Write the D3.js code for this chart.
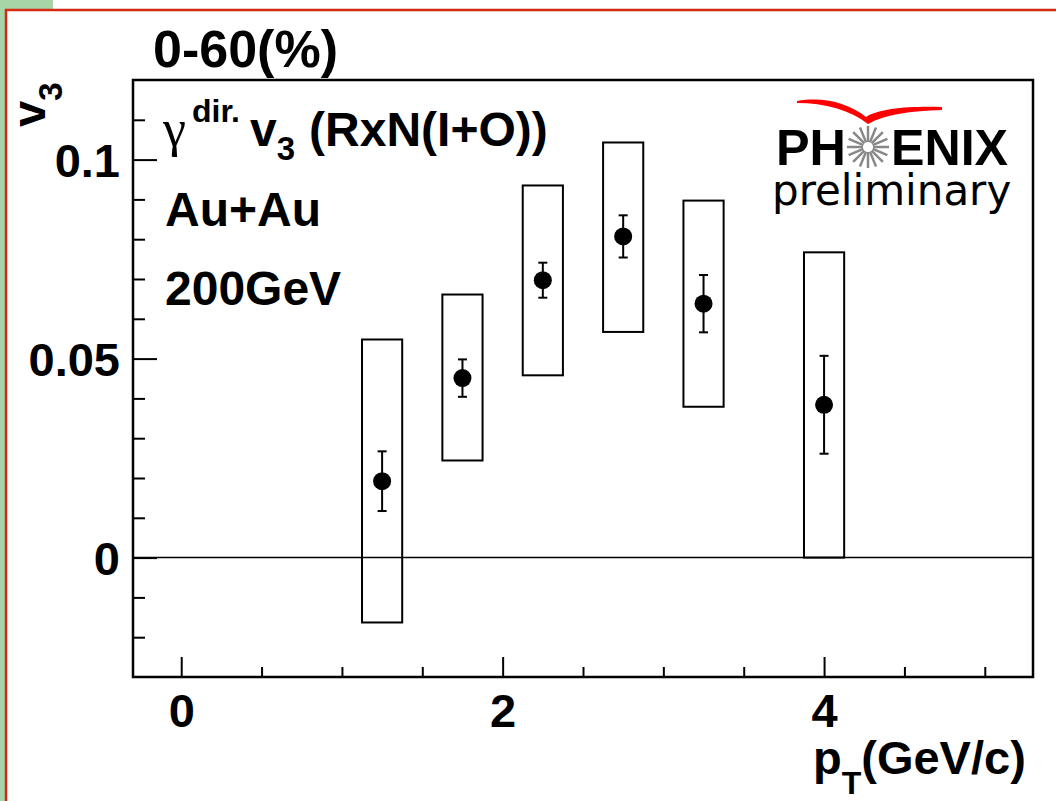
<!DOCTYPE html>
<html>
<head>
<meta charset="utf-8">
<script src="https://cdn.jsdelivr.net/npm/d3@7"></script>
<style>
  body { margin: 0; background: #fff; }
  text { font-family: "Liberation Sans", Arial, sans-serif; font-weight: bold; }
</style>
</head>
<body>
<div id="chart"></div>
<script>
// pT bin centres (GeV/c)
var ptBins = [1.25, 1.75, 2.25, 2.75, 3.25, 4.0];
// direct photon v3 values
var v3Values = [0.0192, 0.0451, 0.0697, 0.0807, 0.0638, 0.0384];
// statistical errors (symmetric)
var statErrors = [0.0075, 0.0047, 0.0044, 0.0053, 0.0072, 0.0123];
// systematic band, low and high edges
var sysLow = [-0.0163, 0.0244, 0.0458, 0.0567, 0.0379, 0.0];
var sysHigh = [0.0548, 0.0661, 0.0935, 0.1043, 0.0897, 0.0767];
var sysHalfWidth = 0.125;

var xMajorTicks = [0, 2, 4];
var yMajorTicks = [0, 0.05, 0.1];
var yTickLabels = ["0", "0.05", "0.1"];

function init() {

    var w = 1056;
    var h = 801;
    var margin = {top: 80, right: 23, bottom: 124, left: 133};

    var dataset = ptBins.map(function(p, i) {
        return {pt: p, v: v3Values[i], err: statErrors[i], lo: sysLow[i], hi: sysHigh[i]};
    });

    var svg = d3.select("#chart")
        .append("svg")
        .attr("width", w)
        .attr("height", h);

    // page frame (green corner + red border)
    svg.append("rect").attr("x", 0).attr("y", 0).attr("width", 53).attr("height", 9).attr("fill", "#a8d5a8");
    svg.append("rect").attr("x", 0).attr("y", 0).attr("width", 5).attr("height", h).attr("fill", "#a8d5a8");
    svg.append("path")
        .attr("d", "M6," + h + " V10 H" + w)
        .attr("fill", "none")
        .attr("stroke", "#d42a14")
        .attr("stroke-width", 2.5);

    var xScale = d3.scaleLinear()
        .domain([-0.3, 5.3])
        .range([margin.left, w - margin.right]);

    var yScale = d3.scaleLinear()
        .domain([-0.03, 0.12])
        .range([h - margin.bottom, margin.top]);

    var x0 = xScale.range()[0], x1 = xScale.range()[1];
    var y0 = yScale.range()[0], y1 = yScale.range()[1];

    // zero line
    svg.append("line")
        .attr("x1", x0).attr("x2", x1)
        .attr("y1", yScale(0)).attr("y2", yScale(0))
        .attr("stroke", "#000")
        .attr("stroke-width", 1.5);

    // inward ticks - y (minor every 0.01)
    var yMinor = d3.range(-2, 12).filter(d => d % 5 != 0).map(d => d / 100);
    svg.append("g")
        .attr("transform", "translate(" + x0 + ",0)")
        .call(d3.axisRight(yScale).tickValues(yMinor).tickSize(12).tickFormat(""))
        .call(g => g.select(".domain").remove())
        .selectAll("line").attr("stroke-width", 2);
    svg.append("g")
        .attr("transform", "translate(" + x0 + ",0)")
        .call(d3.axisRight(yScale).tickValues(yMajorTicks).tickSize(24).tickFormat(""))
        .call(g => g.select(".domain").remove())
        .selectAll("line").attr("stroke-width", 2);

    // y labels
    var yAx = svg.append("g")
        .attr("transform", "translate(" + (x0 - 10) + ",0)")
        .call(d3.axisLeft(yScale).tickValues(yMajorTicks).tickSize(0).tickFormat((d, i) => yTickLabels[i]));
    yAx.select(".domain").remove();
    yAx.selectAll("text")
        .attr("font-size", "47px")
        .attr("font-family", "Liberation Sans, Arial, sans-serif")
        .attr("fill", "#000")
        .attr("dy", "0.36em");

    // inward ticks - x (minor every 0.5)
    var xMinor = d3.range(0, 11).filter(d => d % 4 != 0).map(d => d / 2);
    svg.append("g")
        .attr("transform", "translate(0," + y0 + ")")
        .call(d3.axisTop(xScale).tickValues(xMinor).tickSize(10).tickFormat(""))
        .call(g => g.select(".domain").remove())
        .selectAll("line").attr("stroke-width", 2);
    svg.append("g")
        .attr("transform", "translate(0," + y0 + ")")
        .call(d3.axisTop(xScale).tickValues(xMajorTicks).tickSize(20).tickFormat(""))
        .call(g => g.select(".domain").remove())
        .selectAll("line").attr("stroke-width", 2);

    var xAx = svg.append("g")
        .attr("transform", "translate(0," + (y0 + 14) + ")")
        .call(d3.axisBottom(xScale).tickValues(xMajorTicks).tickSize(0).tickFormat(d3.format("d")));
    xAx.select(".domain").remove();
    xAx.selectAll("text")
        .attr("font-size", "47px")
        .attr("font-family", "Liberation Sans, Arial, sans-serif")
        .attr("fill", "#000")
        .attr("dy", "0.71em");

    // frame
    svg.append("rect")
        .attr("x", x0).attr("y", y1)
        .attr("width", x1 - x0).attr("height", y0 - y1)
        .attr("fill", "none")
        .attr("stroke", "#000")
        .attr("stroke-width", 2.5);

    // systematic boxes
    svg.selectAll("rect.sys")
        .data(dataset)
        .enter()
        .append("rect")
        .attr("class", "sys")
        .attr("x", d => xScale(d.pt - sysHalfWidth))
        .attr("y", d => yScale(d.hi))
        .attr("width", d => xScale(d.pt + sysHalfWidth) - xScale(d.pt - sysHalfWidth))
        .attr("height", d => yScale(d.lo) - yScale(d.hi))
        .attr("fill", "none")
        .attr("stroke", "#000")
        .attr("stroke-width", 2);

    // stat error bars
    var eb = svg.selectAll("g.err")
        .data(dataset)
        .enter()
        .append("g")
        .attr("class", "err")
        .attr("stroke", "#000")
        .attr("stroke-width", 2);
    eb.append("line")
        .attr("x1", d => xScale(d.pt)).attr("x2", d => xScale(d.pt))
        .attr("y1", d => yScale(d.v - d.err)).attr("y2", d => yScale(d.v + d.err));
    eb.append("line")
        .attr("x1", d => xScale(d.pt) - 4.5).attr("x2", d => xScale(d.pt) + 4.5)
        .attr("y1", d => yScale(d.v + d.err)).attr("y2", d => yScale(d.v + d.err));
    eb.append("line")
        .attr("x1", d => xScale(d.pt) - 4.5).attr("x2", d => xScale(d.pt) + 4.5)
        .attr("y1", d => yScale(d.v - d.err)).attr("y2", d => yScale(d.v - d.err));

    svg.selectAll("circle.pt")
        .data(dataset)
        .enter()
        .append("circle")
        .attr("class", "pt")
        .attr("cx", d => xScale(d.pt))
        .attr("cy", d => yScale(d.v))
        .attr("r", 9)
        .attr("fill", "#000");

    // title
    svg.append("text")
        .attr("x", 153).attr("y", 67)
        .attr("font-size", "52px")
        .text("0-60(%)");

    // y axis title
    var yt = svg.append("text")
        .attr("transform", "translate(45,127) rotate(-90)")
        .attr("font-size", "47px");
    yt.append("tspan").text("v");
    yt.append("tspan").attr("dy", 17).attr("font-size", "33px").text("3");

    // x axis title
    var xt = svg.append("text")
        .attr("x", 813).attr("y", 774)
        .attr("font-size", "47px");
    xt.append("tspan").text("p");
    xt.append("tspan").attr("dy", 20).attr("font-size", "32px").text("T");
    xt.append("tspan").attr("dy", -20).text("(GeV/c)");

    // legend text
    var l1 = svg.append("text")
        .attr("x", 163).attr("y", 146)
        .attr("font-size", "48px");
    l1.append("tspan")
        .style("font-family", "'Liberation Serif', serif")
        .style("font-weight", "normal")
        .attr("font-size", "52px")
        .text("γ");
    l1.append("tspan").attr("dy", -24).attr("dx", 6).attr("font-size", "32px").text("dir.");
    l1.append("tspan").attr("dy", 24).attr("dx", 10).text("v");
    l1.append("tspan").attr("dy", 14).attr("font-size", "33px").text("3");
    l1.append("tspan").attr("dy", -14).attr("dx", 14).text("(RxN(I+O))");

    svg.append("text").attr("x", 165).attr("y", 226).attr("font-size", "48px").text("Au+Au");
    svg.append("text").attr("x", 165).attr("y", 305).attr("font-size", "48px").text("200GeV");

    // PHENIX preliminary logo
    var logo = svg.append("g");
    logo.append("path")
        .attr("d", "M797,101 C825,96 850,104 866,117 C880,108 910,106 942,107 L942,110 C910,111 886,114 868,124 C850,110 825,103 797,103 Z")
        .attr("fill", "#f00");
    logo.append("text").attr("x", 776).attr("y", 165).attr("font-size", "50px")
        .attr("textLength", 70).attr("lengthAdjust", "spacingAndGlyphs").text("PH");
    logo.append("text").attr("x", 891).attr("y", 165).attr("font-size", "50px")
        .attr("textLength", 117).attr("lengthAdjust", "spacingAndGlyphs").text("ENIX");
    var rays = d3.range(16).map(i => i * Math.PI / 8);
    logo.selectAll("line.ray")
        .data(rays)
        .enter()
        .append("line")
        .attr("x1", a => 868 + 5 * Math.cos(a)).attr("y1", a => 147 + 5 * Math.sin(a))
        .attr("x2", a => 868 + 21 * Math.cos(a)).attr("y2", a => 147 + 21 * Math.sin(a))
        .attr("stroke", "#888")
        .attr("stroke-width", 2.5);
    logo.append("text").attr("x", 772).attr("y", 205)
        .style("font-family", "'DejaVu Sans', sans-serif")
        .style("font-weight", "normal")
        .attr("font-size", "42px")
        .text("preliminary");
}

window.onload = init;
</script>
</body>
</html>
